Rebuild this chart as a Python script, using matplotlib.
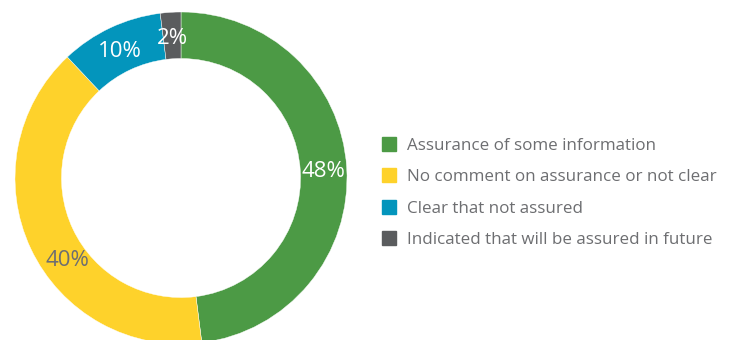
import matplotlib
matplotlib.use("Agg")
import matplotlib.pyplot as plt
from matplotlib.lines import Line2D
import numpy as np

categories = ["Assurance of some information",
              "No comment on assurance or not clear",
              "Clear that not assured",
              "Indicated that will be assured in future"]
values = [48, 40, 10, 2]
colors = ["#4C9A45", "#FED22B", "#0395BC", "#5A5C5E"]
label_colors = ["white", "#6D6E71", "white", "white"]

plt.rcParams['font.family'] = ['Open Sans', 'DejaVu Sans']

W, H = 731, 340
fig = plt.figure(figsize=(W / 100, H / 100), dpi=100)
cx, cy, R = 181, 178, 166
ax = fig.add_axes([(cx - R) / W, (H - cy - R) / H, 2 * R / W, 2 * R / H])
ax.axis('off')

wedges, texts, autotexts = ax.pie(
    values, colors=colors, startangle=90, counterclock=False, radius=1,
    wedgeprops=dict(width=0.28, edgecolor='white', linewidth=0.3),
    autopct=lambda p: f"{p:.0f}%", pctdistance=0.86,
    textprops=dict(fontsize=16))
for t, c in zip(autotexts, label_colors):
    t.set_color(c)
    t.set_va('center_baseline')
# the 40% label sits a little further round the ring in the original
x, y = autotexts[1].get_position()
ang = np.arctan2(y, x) + np.deg2rad(10)
r = np.hypot(x, y) * 0.97
autotexts[1].set_position((r * np.cos(ang), r * np.sin(ang)))
ax.set_xlim(-1, 1)
ax.set_ylim(-1, 1)
ax.set_aspect('auto')

handles = [Line2D([], [], marker='s', linestyle='none', markersize=9.5,
                  markerfacecolor=c, markeredgecolor=c) for c in colors]
leg = fig.legend(handles, categories, loc='center left',
                 bbox_to_anchor=(381 / W, 1 - 193 / H), frameon=False,
                 fontsize=12.25, labelspacing=0.89, handlelength=0.9,
                 handletextpad=0.6, borderaxespad=0, borderpad=0)
for t in leg.get_texts():
    t.set_color("#6D6E71")

fig.savefig("out.png", dpi=100)
